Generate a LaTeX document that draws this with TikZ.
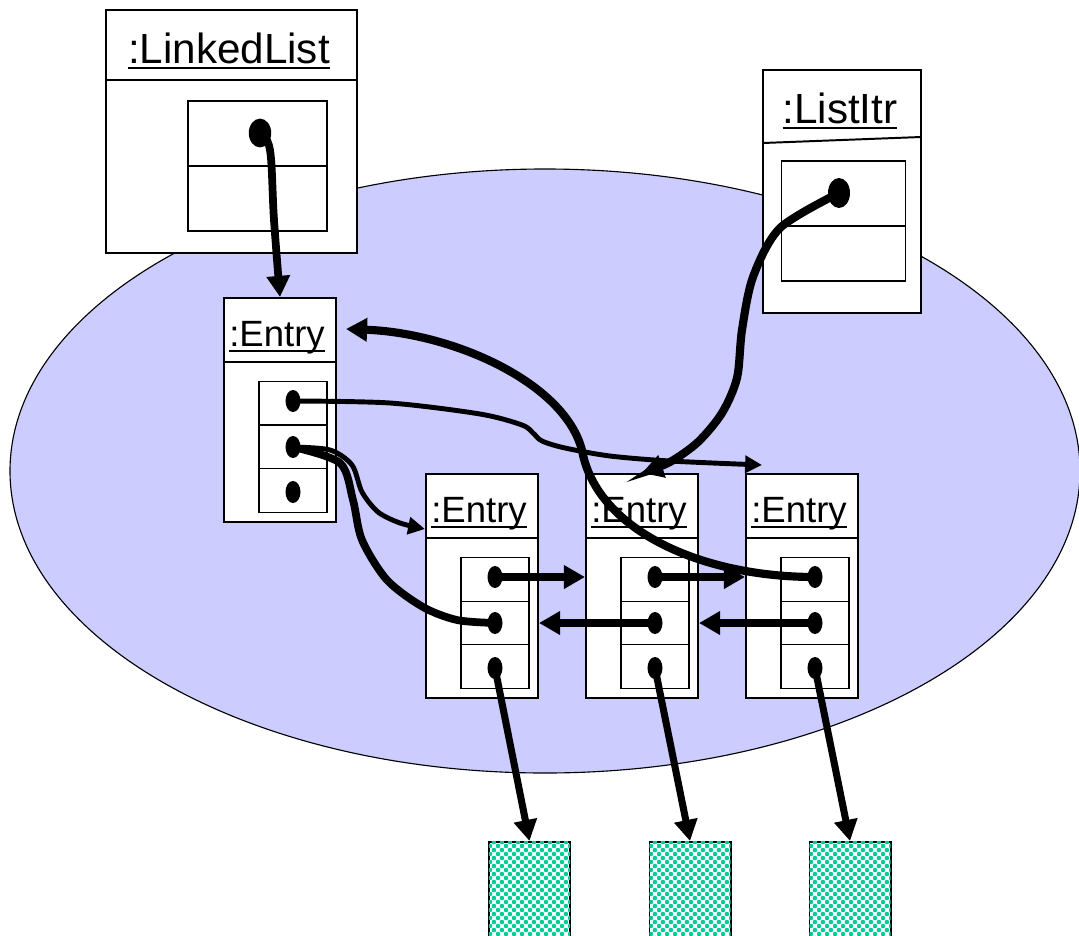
\documentclass[tikz,border=0pt]{standalone}
\usepackage{fontspec}
\setmainfont{Liberation Sans}
\usepackage{xcolor}
\usetikzlibrary{arrows.meta,shapes.geometric,patterns}

\definecolor{cloud}{RGB}{204,204,255}
\definecolor{datagreen}{RGB}{0,204,153}

% object names are underlined close to the baseline
\newcommand{\objname}[1]{\setbox0\hbox{#1}\leavevmode\rlap{\rule[-4.2pt]{\wd0}{1.3pt}}\box0}

% checker fill of the element boxes
\pgfdeclarepatternformonly{datacheck}{\pgfpointorigin}{\pgfqpoint{6pt}{6pt}}{\pgfqpoint{6pt}{6pt}}{%
  \pgfpathcircle{\pgfqpoint{1.5pt}{1.5pt}}{1.75pt}%
  \pgfpathcircle{\pgfqpoint{4.5pt}{4.5pt}}{1.75pt}%
  \pgfusepath{fill}}

\begin{document}
\begin{tikzpicture}[x=0.025cm,y=-0.025cm,
  obj/.style={draw,fill=white,line width=1.4pt,inner sep=0pt},
  slot/.style={draw,fill=white,line width=1pt,inner sep=0pt,minimum width=1.7cm,minimum height=1.09cm},
  ref/.style={ellipse,fill=black,inner sep=0pt,minimum width=0.375cm,minimum height=0.55cm},
  bigref/.style={ref,minimum width=0.56cm,minimum height=0.72cm},
  title/.style={anchor=base,font=\fontsize{30}{36}\selectfont},
  etitle/.style={anchor=base,font=\fontsize{26}{31}\selectfont},
  data/.style={draw,line width=1.4pt,fill=white,minimum width=2.025cm,minimum height=2.5cm,
    postaction={pattern=datacheck,pattern color=datagreen}},
  link/.style={line width=5pt,-{Triangle[length=15pt,width=16pt]}},
  bent/.style={line width=5.8pt,-{Triangle[length=15pt,width=16pt]}},
  thinlink/.style={line width=3.5pt,-{Triangle[length=12pt,width=12pt]}}]
  \useasboundingbox (0,0) rectangle (1079,935);
  \clip (0,0) rectangle (1079,935);

  % the heap region
  \draw[fill=cloud,line width=0.8pt] (545,471) ellipse [x radius=535, y radius=302];

  % list object
  \node[obj,minimum width=6.275cm,minimum height=6.075cm] (ll) at (231.5,131.5) {};
  \draw[line width=1.4pt] (106,80) -- (357,80);
  \node[title] (llt) at (229,63) {\objname{:LinkedList}};
  \node[slot,minimum width=3.475cm,minimum height=1.625cm] (lls1) at (257.5,133.5) {};
  \node[slot,minimum width=3.475cm,minimum height=1.625cm] (lls2) at (257.5,198.5) {};
  \node[bigref] (ll-a) at (260,133) {};

  % iterator object
  \node[obj,minimum width=3.95cm,minimum height=6.075cm] (li) at (842,191.5) {};
  \draw[line width=1.4pt] (763,143) -- (921,137);
  \node[title] (lit) at (840,123) {\objname{:ListItr}};
  \node[slot,minimum width=3.1cm,minimum height=1.625cm] (lis1) at (843.5,193.5) {};
  \node[slot,minimum width=3.1cm,minimum height=1.375cm] (lis2) at (843.5,253.5) {};
  \node[bigref,minimum width=0.55cm,minimum height=0.75cm] (li-a) at (839,193) {};

  % entries
  \foreach \n/\X/\Y in {e1/224/298, e2/426/474, e3/586/474, e4/746/474}{
    \node[obj,minimum width=2.8cm,minimum height=5.6cm] (\n) at (\X+56,\Y+112) {};
    \draw[line width=1.4pt] (\X,\Y+64) -- (\X+112,\Y+64);
    \node[etitle] (\n t) at (\X+53,\Y+48) {\objname{:Entry}};
    \node[slot] (\n s1) at (\X+69,\Y+105.5) {};
    \node[slot] (\n s2) at (\X+69,\Y+149) {};
    \node[slot] (\n s3) at (\X+69,\Y+192.5) {};
    \node[ref] (\n-a) at (\X+69,\Y+103) {};
    \node[ref] (\n-b) at (\X+69,\Y+149) {};
    \node[ref] (\n-c) at (\X+69,\Y+194) {};
  }

  % elements
  \node[data] (d1) at (529.5,892) {};
  \node[data] (d2) at (690,892) {};
  \node[data] (d3) at (850,892) {};

  % next / previous links
  \draw[link] (e2-a.center) -- (e3.west |- e2-a);
  \draw[link] (e3-a.center) -- (e4.west |- e3-a);
  \draw[link] (e3-b.center) -- (e2.east |- e3-b);
  \draw[link] (e4-b.center) -- (e3.east |- e4-b);
  \draw[link] (e2-c.center) -- (d1.north);
  \draw[link] (e3-c.center) -- (d2.north);
  \draw[link] (e4-c.center) -- (d3.north);

  % header and iterator references
  \draw[link,line width=5.5pt] plot[smooth,tension=0.6] coordinates {(ll-a.center) (270,150) (274,220) (e1.north)};
  \draw[bent] plot[smooth] coordinates {(li-a.center) (780,228) (753,277) (742,330) (737,378) (722,413) (698,442) (670,462) (e3.north)};
  \draw[bent] (e4-a.center) .. controls (700,577) and (600,530) .. (583,455)
    .. controls (570,385) and (455,333) .. ([xshift=0.225cm,yshift=-0.8cm]e1.north east);
  \draw[thinlink] plot[smooth] coordinates {(e1-a.center) (390,403) (480,414) (522,425) (533,433) (542,441) (565,448) (610,456) (670,461) ([xshift=0.425cm,yshift=0.2cm]e4.north west)};
  \draw[thinlink] plot[smooth] coordinates {(e1-b.center) (330,450) (352,465) (362,492) (378,512) (400,523) ([yshift=-1.4cm]e2.north west)};
  \draw[line width=5.5pt] plot[smooth] coordinates {(e1-b.center) (340,463) (353,500) (362,540) (387,580) (423,607) (457,620) (e2-b.center)};
\end{tikzpicture}
\end{document}
